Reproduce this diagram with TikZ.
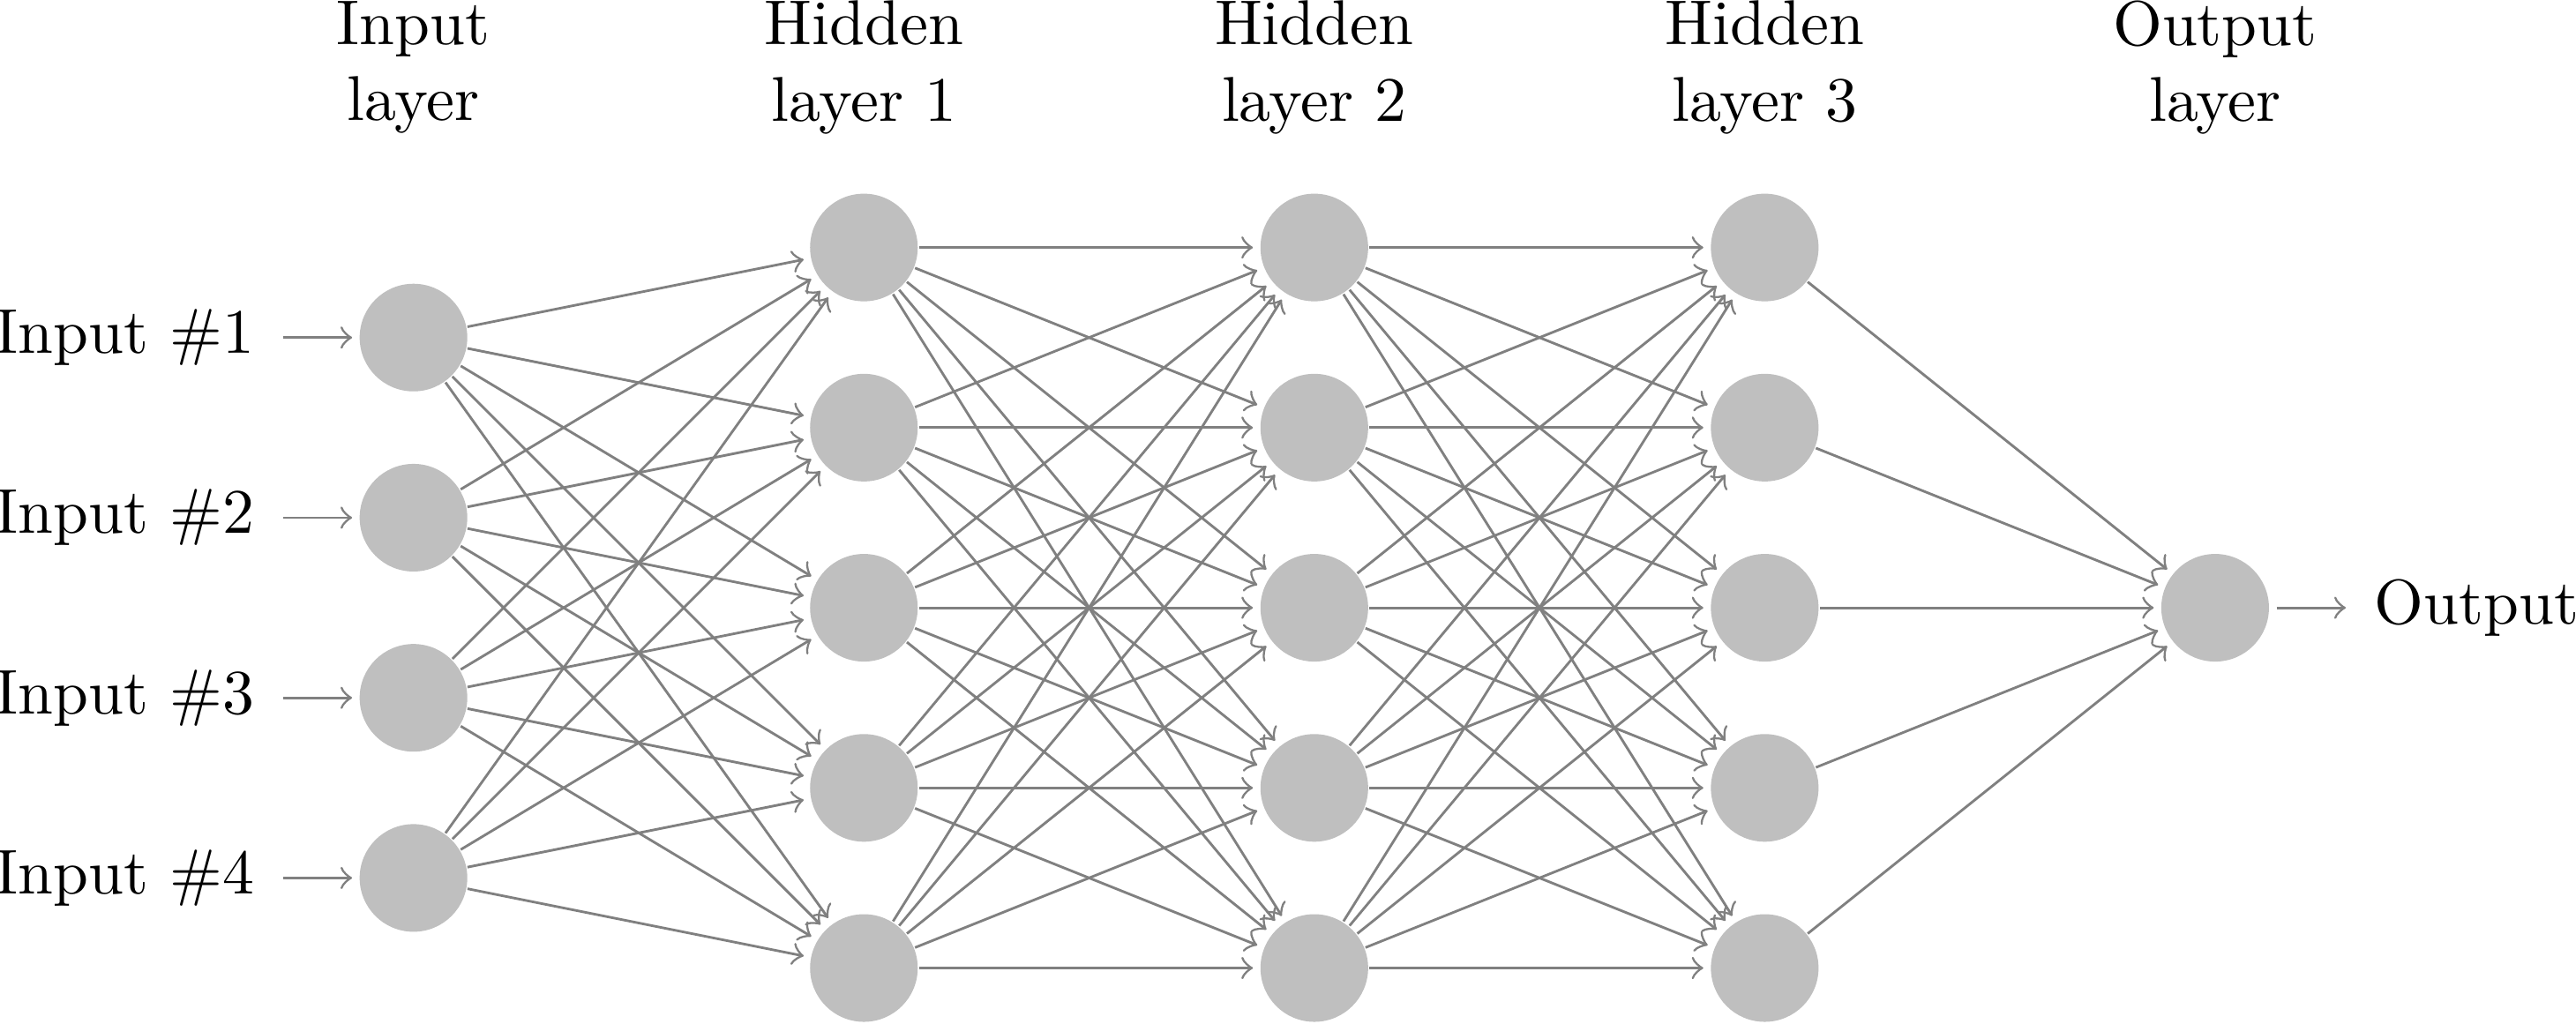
\documentclass[tikz,border=0pt]{standalone}
\usetikzlibrary{positioning}
\begin{document}
\begin{tikzpicture}[draw=black!50,
  neuron/.style={circle,fill=black!25,minimum size=17pt,inner sep=0pt},
  annot/.style={text width=4em,align=center},
  conn/.style={->,shorten >=1pt},
  pinedge/.style={->,shorten <=1pt,shorten >=1pt}]
\useasboundingbox (-2.295,-4.806) rectangle (12.003,0.874);
% neurons
\foreach \y in {1,...,4}
  \node[neuron] (I-\y) at (0,-\y) {};
\foreach \l/\x in {1/2.5,2/5,3/7.5}
  \foreach \y in {1,...,5}
    \node[neuron] (H\l-\y) at (\x,-\y+0.5) {};
\node[neuron] (O) at (10,-2.5) {};
% input labels and pins
\foreach \y in {1,...,4} {
  \node[left=3ex of I-\y] (IL-\y) {Input \#\y};
  \draw[pinedge] (IL-\y) -- (I-\y);
}
\node[right=3ex of O] (OL) {Output};
\draw[pinedge] (O) -- (OL);
% connections
\foreach \s in {1,...,4}
  \foreach \d in {1,...,5}
    \draw[conn] (I-\s) -- (H1-\d);
\foreach \s in {1,...,5}
  \foreach \d in {1,...,5} {
    \draw[conn] (H1-\s) -- (H2-\d);
    \draw[conn] (H2-\s) -- (H3-\d);
  }
\foreach \s in {1,...,5}
  \draw[conn] (H3-\s) -- (O);
% layer annotations
\node[annot] (A-in) at (0,0.5) {Input layer};
\node[annot] (A-h1) at (2.5,0.5) {Hidden layer 1};
\node[annot] (A-h2) at (5,0.5) {Hidden layer 2};
\node[annot] (A-h3) at (7.5,0.5) {Hidden layer 3};
\node[annot] (A-out) at (10,0.5) {Output layer};
\end{tikzpicture}
\end{document}
